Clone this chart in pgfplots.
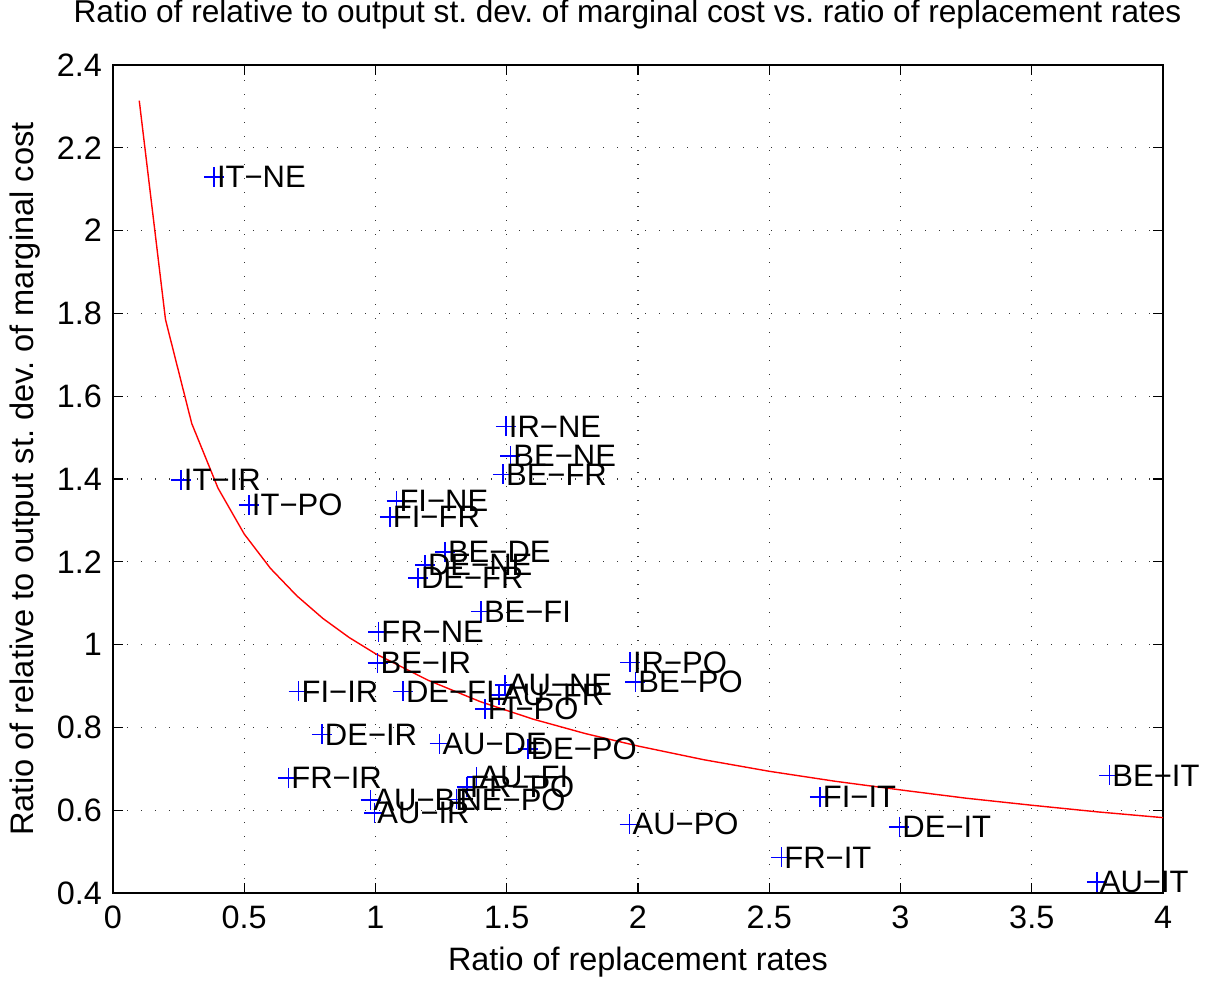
\documentclass[border=0pt]{standalone}
\usepackage{pgfplots}
\usepackage{pgfplotstable}
\pgfplotsset{compat=1.18}
\usepackage{fontspec}
\setmainfont{Liberation Sans}
\definecolor{mblue}{RGB}{0,0,255}
\pgfplotstableread{
x y label
0.385 2.129 IT−NE
0.259 1.398 IT−IR
0.518 1.337 IT−PO
1.497 1.527 IR−NE
1.514 1.455 BE−NE
1.486 1.411 BE−FR
1.080 1.347 FI−NE
1.055 1.308 FI−FR
1.265 1.224 BE−DE
1.189 1.192 DE−NE
1.162 1.161 DE−FR
1.402 1.080 BE−FI
1.011 1.031 FR−NE
1.008 0.955 BE−IR
0.707 0.887 FI−IR
1.105 0.887 DE−FI
1.493 0.902 AU−NE
1.470 0.878 AU−FR
1.417 0.844 FI−PO
1.970 0.957 IR−PO
1.990 0.910 BE−PO
0.796 0.783 DE−IR
1.244 0.761 AU−DE
1.580 0.748 DE−PO
0.668 0.678 FR−IR
1.385 0.680 AU−FI
1.349 0.656 FR−PO
1.309 0.626 NE−PO
0.981 0.625 AU−BE
0.996 0.593 AU−IR
1.968 0.566 AU−PO
2.693 0.632 FI−IT
2.996 0.560 DE−IT
2.546 0.486 FR−IT
3.748 0.426 AU−IT
3.796 0.684 BE−IT
}\pairs
\pgfplotstableread{
x y
0.1 2.314
0.2 1.785
0.3 1.534
0.4 1.378
0.5 1.267
0.6 1.184
0.7 1.118
0.8 1.063
0.9 1.017
1.0 0.978
1.2 0.914
1.4 0.862
1.6 0.820
1.8 0.785
2.0 0.755
2.25 0.722
2.5 0.694
2.75 0.670
3.0 0.649
3.25 0.629
3.5 0.612
3.75 0.596
4.0 0.582
}\fitcurve
\begin{document}
\begin{tikzpicture}[x=1pt,y=1pt]
\path[use as bounding box] (-56.5,-44) rectangle (556.5,446.5);
\begin{axis}[
  at={(0,0)}, anchor=south west,
  scale only axis, width=525pt, height=414pt,
  xmin=0, xmax=4, ymin=0.4, ymax=2.4,
  xtick={0,0.5,1,1.5,2,2.5,3,3.5,4},
  ytick={0.4,0.6,0.8,1,1.2,1.4,1.6,1.8,2,2.2,2.4},
  tick pos=both, tick align=inside,
  major tick length=5pt,
  axis line style={line width=0.6pt},
  every tick/.style={black, line width=0.6pt},
  grid=major,
  major grid style={black!80, line width=0.6pt, dash pattern=on 0.6pt off 6.4pt},
  font=\fontsize{15.8}{18}\selectfont,
  /pgf/number format/assume math mode=true,
  ticklabel style={font=\fontsize{16.2}{18}\selectfont},
  xticklabel style={yshift=-3pt},
  yticklabel style={xshift=-2pt},
  title={Ratio of relative to output st.\ dev.\ of marginal cost vs.\ ratio of replacement rates},
  title style={at={(axis description cs:0.49,1)}, anchor=base, yshift=15pt, font=\fontsize{15.8}{18}\selectfont},
  xlabel={Ratio of replacement rates},
  xlabel style={at={(axis description cs:0.5,0)}, anchor=center, yshift=-34.5pt, font=\fontsize{16.2}{18}\selectfont},
  ylabel={Ratio of relative to output st.\ dev.\ of marginal cost},
  ylabel style={at={(axis description cs:-0.0838,0.5)}, anchor=center, font=\fontsize{16.3}{18}\selectfont},
  clip=false,
]
\addplot[red, line width=0.7pt, no marks] table[x=x,y=y] {\fitcurve};
\addplot[only marks, mark=+, mark size=5pt, color=mblue, mark options={line width=0.75pt, draw=mblue}]
  table[x=x,y=y] {\pairs};
\addplot[draw=none, no marks,
  point meta=explicit symbolic,
  nodes near coords,
  nodes near coords style={anchor=west, inner sep=0pt, xshift=1.3pt, text=black, font=\fontsize{15.5}{18}\selectfont}]
  table[x=x,y=y,meta=label] {\pairs};
\end{axis}
\end{tikzpicture}
\end{document}
